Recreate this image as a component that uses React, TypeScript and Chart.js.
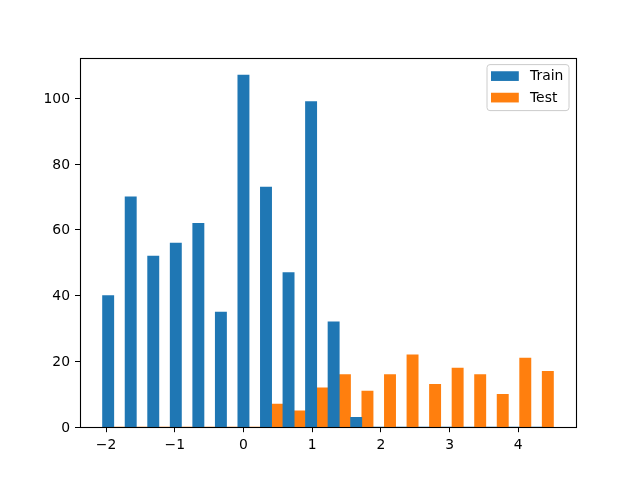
import React, { useEffect, useRef } from "react";
import { Chart, registerables } from "chart.js";

Chart.register(...registerables);

// Histogram bins (20 equal-width bins)
const binStart = -2.052;
const binWidth = 0.3282;
const trainCounts = [40, 70, 52, 56, 62, 35, 107, 73, 47, 99, 32, 3, 0, 0, 0, 0, 0, 0, 0, 0];
const testCounts = [0, 0, 0, 0, 0, 0, 0, 7, 5, 12, 16, 11, 16, 22, 13, 18, 16, 10, 21, 17];
const seriesLabels = ["Train", "Test"];
const seriesColors = ["#1f77b4", "#ff7f0e"];
const xTickValues = [-2, -1, 0, 1, 2, 3, 4];
const yTickValues = [0, 20, 40, 60, 80, 100];
const xRange = [-2.38, 4.84];
const yRange = [0, 112.35];

const binCenters = trainCounts.map((_, i) => binStart + (i + 0.5) * binWidth);

const FONT = "DejaVu Sans";
const FS = 13.9;

const fmt = (v: number | string) => String(v).replace("-", "\u2212");

const framePlugin = {
  id: "mplFrame",
  afterDatasetsDraw(chart: any) {
    const { ctx, chartArea } = chart;
    ctx.save();
    ctx.strokeStyle = "#000";
    ctx.lineWidth = 1.1;
    ctx.strokeRect(
      Math.round(chartArea.left) + 0.5,
      Math.round(chartArea.top) + 0.5,
      Math.round(chartArea.right) - Math.round(chartArea.left),
      Math.round(chartArea.bottom) - Math.round(chartArea.top)
    );
    ctx.restore();
  },
};

const legendPlugin = {
  id: "mplLegend",
  afterDraw(chart: any) {
    const { ctx, chartArea } = chart;
    const ds = chart.data.datasets;
    const bx = chartArea.right - 89;
    const by = chartArea.top + 7;
    const bw = 82;
    const bh = 46;
    ctx.save();
    ctx.beginPath();
    const r = 3;
    ctx.moveTo(bx + r, by);
    ctx.arcTo(bx + bw, by, bx + bw, by + bh, r);
    ctx.arcTo(bx + bw, by + bh, bx, by + bh, r);
    ctx.arcTo(bx, by + bh, bx, by, r);
    ctx.arcTo(bx, by, bx + bw, by, r);
    ctx.closePath();
    ctx.fillStyle = "rgba(255,255,255,0.8)";
    ctx.fill();
    ctx.strokeStyle = "#cccccc";
    ctx.lineWidth = 1;
    ctx.stroke();
    ctx.font = `${FS}px "${FONT}"`;
    ctx.textBaseline = "middle";
    ctx.textAlign = "left";
    ds.forEach((d: any, i: number) => {
      const cy = by + 11.5 + i * 21.5;
      ctx.fillStyle = d.backgroundColor;
      ctx.fillRect(bx + 4, cy - 4.85, 27.8, 9.7);
      ctx.fillStyle = "#000";
      ctx.fillText(d.label, bx + 43, cy + 0.5);
    });
    ctx.restore();
  },
};

export default function App() {
  const ref = useRef<HTMLCanvasElement>(null);
  useEffect(() => {
    if (!ref.current) return;
    const chart = new Chart(ref.current, {
      type: "bar",
      data: {
        datasets: [
          {
            label: seriesLabels[0],
            data: binCenters.map((x, i) => ({ x, y: trainCounts[i] })),
            backgroundColor: seriesColors[0],
            borderWidth: 0,
            categoryPercentage: 1.0,
            barPercentage: 1.0,
          },
          {
            label: seriesLabels[1],
            data: binCenters.map((x, i) => ({ x, y: testCounts[i] })),
            backgroundColor: seriesColors[1],
            borderWidth: 0,
            categoryPercentage: 1.0,
            barPercentage: 1.0,
          },
        ],
      } as any,
      options: {
        animation: false,
        responsive: false,
        devicePixelRatio: 1,
        layout: { padding: { left: 0, top: 57.6, right: 64, bottom: 0 } },
        plugins: { legend: { display: false }, tooltip: { enabled: false } },
        scales: {
          x: {
            type: "linear",
            offset: false,
            min: xRange[0],
            max: xRange[1],
            grid: { offset: false, drawOnChartArea: false, drawTicks: true, tickLength: 5, color: "#000" },
            border: { display: false },
            afterBuildTicks: (s: any) => {
              s.ticks = xTickValues.map((v) => ({ value: v }));
            },
            afterFit: (s: any) => {
              s.height = 480 - 427.2;
            },
            ticks: {
              autoSkip: false,
              maxRotation: 0,
              padding: 5,
              color: "#000",
              font: { family: FONT, size: FS },
              callback: (v: any) => fmt(v),
            },
          },
          y: {
            type: "linear",
            min: yRange[0],
            max: yRange[1],
            grid: { drawOnChartArea: false, drawTicks: true, tickLength: 5, color: "#000" },
            border: { display: false },
            afterBuildTicks: (s: any) => {
              s.ticks = yTickValues.map((v) => ({ value: v }));
            },
            afterFit: (s: any) => {
              s.width = 80;
            },
            ticks: {
              autoSkip: false,
              padding: 5,
              labelOffset: 1,
              color: "#000",
              font: { family: FONT, size: FS },
              callback: (v: any) => fmt(v),
            },
          },
        },
      } as any,
      plugins: [framePlugin, legendPlugin],
    });
    return () => chart.destroy();
  }, []);
  return (
    <div style={{ position: "absolute", left: 0, top: 0, width: 640, height: 480, background: "#fff" }}>
      <canvas ref={ref} width={640} height={480} />
    </div>
  );
}
